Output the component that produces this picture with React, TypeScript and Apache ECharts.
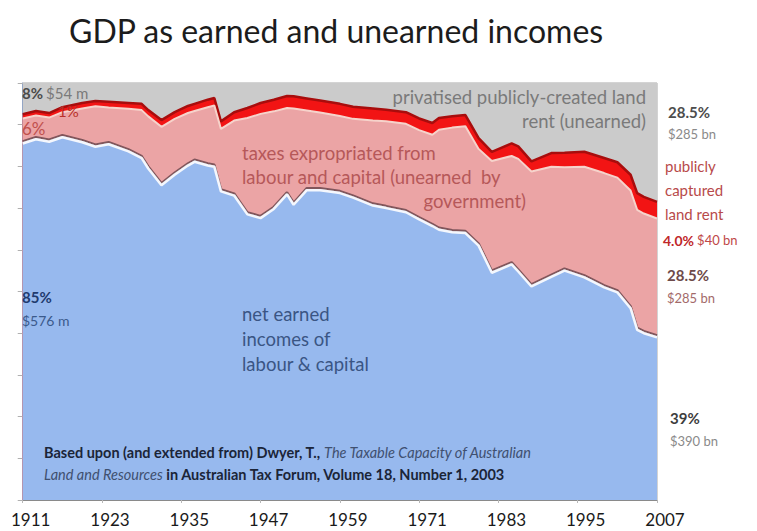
import React, { useEffect, useRef } from "react";
import * as echarts from "echarts";

const years = [1911, 1913, 1915, 1917, 1920, 1922, 1924, 1927, 1929, 1930, 1932, 1934, 1936, 1937, 1939, 1940, 1941, 1943, 1945, 1947, 1949, 1951, 1952, 1954, 1956, 1959, 1961, 1964, 1966, 1969, 1971, 1973, 1974, 1976, 1978, 1980, 1982, 1985, 1986, 1988, 1991, 1993, 1996, 1999, 2001, 2003, 2004, 2005, 2007];

// % of GDP: net earned incomes of labour & capital
const netEarned = [85.5, 86.5, 85.9, 87.0, 85.8, 84.7, 85.3, 83.6, 82.0, 79.5, 75.5, 78.0, 80.2, 81.1, 80.2, 79.9, 74.0, 73.0, 68.5, 67.6, 69.8, 73.3, 70.8, 74.3, 74.3, 73.6, 72.5, 70.6, 70.0, 69.0, 67.3, 65.7, 64.8, 64.2, 64.0, 61.0, 54.5, 56.5, 54.8, 51.2, 53.5, 55.0, 53.4, 51.0, 49.8, 46.0, 40.8, 40.0, 39.0];
// taxes expropriated from labour and capital
const taxes = [6.0, 5.7, 5.8, 6.0, 8.1, 9.7, 8.8, 10.2, 11.5, 12.5, 14.0, 13.4, 12.6, 12.2, 14.0, 14.7, 15.0, 18.0, 23.1, 25.0, 23.4, 20.7, 23.1, 19.1, 18.6, 18.5, 18.9, 20.4, 20.8, 21.2, 21.4, 21.9, 24.0, 25.1, 25.6, 23.2, 26.8, 26.0, 27.0, 27.6, 26.4, 24.8, 26.5, 27.4, 27.5, 28.2, 28.8, 28.7, 28.5];
// publicly captured land rent
const captured = [1.0, 1.1, 1.1, 1.2, 1.3, 1.3, 1.4, 1.4, 1.5, 1.5, 1.6, 1.6, 1.7, 1.7, 1.8, 1.8, 1.8, 2.0, 2.4, 2.6, 2.8, 2.9, 2.9, 2.9, 2.9, 2.9, 2.9, 2.9, 2.8, 2.8, 2.8, 2.8, 2.8, 2.7, 2.7, 2.6, 2.2, 3.0, 3.0, 2.4, 3.3, 3.5, 3.6, 3.6, 3.7, 3.8, 4.0, 4.0, 4.0];
// privatised publicly-created land rent
const privatised = [7.5, 6.7, 7.2, 5.8, 4.8, 4.3, 4.5, 4.8, 5.0, 6.5, 8.9, 7.0, 5.5, 5.0, 4.0, 3.6, 9.2, 7.0, 6.0, 4.8, 4.0, 3.1, 3.2, 3.7, 4.2, 5.0, 5.7, 6.1, 6.4, 7.0, 8.5, 9.6, 8.4, 8.0, 7.7, 13.2, 16.5, 14.5, 15.2, 18.8, 16.8, 16.7, 16.5, 18.0, 19.0, 22.0, 26.4, 27.3, 28.5];

const FONT = "Lato";

export default function App() {
  const ref = useRef<HTMLDivElement>(null);
  useEffect(() => {
    if (!ref.current) return;
    const chart = echarts.init(ref.current, null, { renderer: "svg" });
    // cumulative tops of the stacked layers (100% stacked chart)
    const layers = [netEarned, taxes, captured, privatised];
    const cum = layers.map((_, k) =>
      years.map((y, i) => {
        let s = 0;
        for (let j = 0; j <= k; j++) s += layers[j][i];
        return [y, Math.round(s * 100) / 100];
      })
    );
    const txt = (x: number, y: number, text: string, style: any) => ({
      type: "text",
      x,
      y,
      z: 100,
      style: { text, fontFamily: FONT, verticalAlign: "middle", ...style },
    });
    const area = (name: string, k: number, fill: string, line: any, z: number) => ({
      name,
      type: "line",
      data: cum[k],
      showSymbol: false,
      lineStyle: line,
      areaStyle: { color: fill, opacity: 1, origin: "start" },
      z,
    });
    chart.setOption({
      animation: false,
      title: {
        text: "GDP as earned and unearned incomes",
        left: 64,
        top: 9,
        textStyle: { fontFamily: FONT, fontSize: 32, fontWeight: "normal", color: "#1c1c1c" },
      },
      grid: {
        left: 19,
        right: 100,
        top: 83,
        bottom: 31,
        show: true,
        borderColor: "#a8a8a8",
        borderWidth: 1,
      },
      xAxis: {
        type: "value",
        min: 1911,
        max: 2007,
        interval: 12,
        splitLine: { show: false },
        axisLine: { show: true, lineStyle: { color: "#8a8a8a" } },
        axisTick: { show: true, length: 3, lineStyle: { color: "#b8b8b8" } },
        axisLabel: {
          margin: 11,
          formatter: (v: number) => "{s|}{v|" + v + "}",
          rich: {
            s: { width: 16 },
            v: { fontFamily: FONT, fontSize: 17, color: "#1a1a1a" },
          },
        },
      },
      yAxis: {
        type: "value",
        min: 0,
        max: 100,
        interval: 10,
        splitLine: { show: false },
        axisLabel: { show: false },
        axisLine: { show: true, lineStyle: { color: "#7f98c4" } },
        axisTick: { show: true, length: 5, lineStyle: { color: "#b0b0b0" } },
      },
      series: [
        area("privatised publicly-created land rent", 3, "#cbcbcb", { width: 0 }, 1),
        area("publicly captured land rent", 2, "#f21414", { color: "#a80d0d", width: 2.5 }, 2),
        area("taxes expropriated from labour and capital", 1, "#eba4a5", { color: "#f6d3cb", width: 2 }, 3),
        area("net earned incomes of labour & capital", 0, "#97b9ee", {
          color: "#f4f7fd", width: 2.5, shadowColor: "rgba(110,70,80,0.85)", shadowOffsetY: -2, shadowBlur: 1,
        }, 4),
      ],
      graphic: [
        txt(22, 93, "{b|8%} {n|$54 m}", {
          rich: {
            b: { fontFamily: FONT, fontSize: 15, fontWeight: "bold", fill: "#4a4a4a" },
            n: { fontFamily: FONT, fontSize: 15, fill: "#7a7a7a" },
          },
        }),
        txt(58, 111, "1%", { fontSize: 15, fill: "#b8302a" }),
        txt(22, 128, "6%", { fontSize: 17, fill: "#c0504d" }),
        txt(22, 297, "85%", { fontSize: 15, fontWeight: "bold", fill: "#1f3b6e" }),
        txt(22, 320, "$576 m", { fontSize: 14, fill: "#3b5a8c" }),
        txt(242, 339, "net earned\nincomes of\nlabour & capital", { fontSize: 18.5, fill: "#3a5584", lineHeight: 25 }),
        txt(242, 165, "taxes expropriated from\nlabour and capital (unearned  by", { fontSize: 18.5, fill: "#b65859", lineHeight: 24 }),
        txt(526, 201, "government)", { fontSize: 18.5, fill: "#b65859", align: "right" }),
        txt(646, 109, "privatised publicly-created land\nrent (unearned)", { fontSize: 18.5, fill: "#7a7a7a", align: "right", lineHeight: 24 }),
        txt(668, 112, "28.5%", { fontSize: 15, fontWeight: "bold", fill: "#4d4d4d" }),
        txt(668, 134, "$285 bn", { fontSize: 13, fill: "#8a8a8a" }),
        txt(665, 190, "publicly\ncaptured\nland rent", { fontSize: 15, fill: "#b84a4a", lineHeight: 24 }),
        txt(663, 240, "{b|4.0%} {n|$40 bn}", {
          rich: {
            b: { fontFamily: FONT, fontSize: 14, fontWeight: "bold", fill: "#c0282a" },
            n: { fontFamily: FONT, fontSize: 13, fill: "#c04848" },
          },
        }),
        txt(667, 275, "28.5%", { fontSize: 15, fontWeight: "bold", fill: "#6e4a4a" }),
        txt(667, 298, "$285 bn", { fontSize: 13, fill: "#a36a6a" }),
        txt(670, 418, "39%", { fontSize: 15, fontWeight: "bold", fill: "#3d3d3d" }),
        txt(670, 441, "$390 bn", { fontSize: 13, fill: "#8a8a8a" }),
        txt(44, 463,
          "{n|Based upon (and extended from) Dwyer, T., }{i|The Taxable Capacity of Australian}\n{i|Land and Resources}{n| in Australian Tax Forum, Volume 18, Number 1, 2003}", {
          lineHeight: 22,
          rich: {
            n: { fontFamily: FONT, fontSize: 14.5, fontWeight: "bold", fill: "#1b2538", lineHeight: 22 },
            i: { fontFamily: FONT, fontSize: 14.5, fontStyle: "italic", fill: "#3f5070", lineHeight: 22 },
          },
        }),
      ],
    });
    return () => chart.dispose();
  }, []);
  return <div ref={ref} style={{ width: 757, height: 531, position: "fixed", left: 0, top: 0, background: "#fff" }} />;
}
